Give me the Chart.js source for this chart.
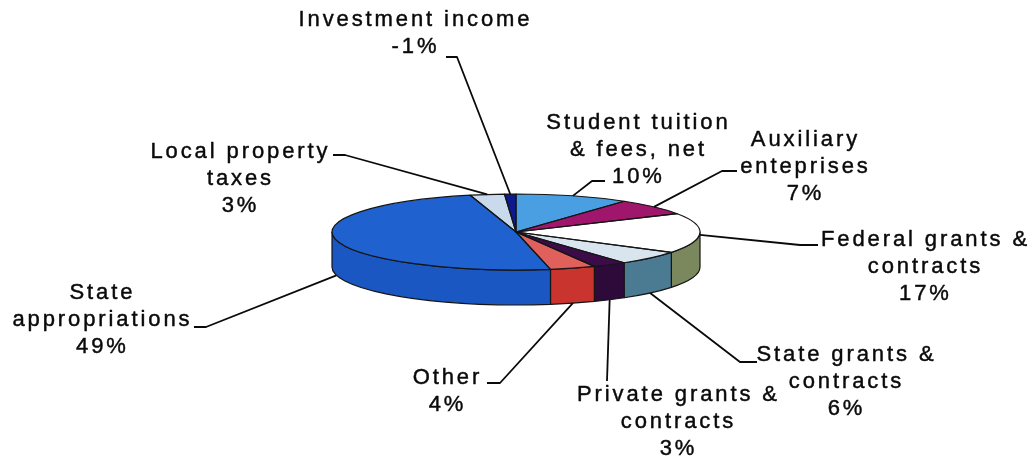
<!DOCTYPE html>
<html>
<head>
<meta charset="utf-8">
<title>Revenue sources</title>
<script src="https://cdn.jsdelivr.net/npm/chart.js@4.4.1/dist/chart.umd.min.js"></script>
<style>
  html, body { margin: 0; padding: 0; background: #ffffff; }
  #wrap { position: relative; width: 1034px; height: 457px; }
</style>
</head>
<body>
<div id="wrap"><canvas id="chart"></canvas></div>
<script>
// Revenue sources, clockwise from 12 o'clock
const categories = [
  'Student tuition & fees, net',
  'Auxiliary enteprises',
  'Federal grants & contracts',
  'State grants & contracts',
  'Private grants & contracts',
  'Other',
  'State appropriations',
  'Local property taxes',
  'Investment income'
];
const shares = [10, 7, 17, 6, 3, 4, 49, 3, -1];

// How each category name is broken over lines in its label
const labelLines = [
  ['Student tuition', '& fees, net'],
  ['Auxiliary', 'enteprises'],
  ['Federal grants &', 'contracts'],
  ['State grants &', 'contracts'],
  ['Private grants &', 'contracts'],
  ['Other'],
  ['State', 'appropriations'],
  ['Local property', 'taxes'],
  ['Investment income']
];

// Slice colours: top face and outer wall
const topColors  = ['#4a9fe3', '#a0166c', '#ffffff', '#d9e5ee', '#3c0c48', '#e0605c', '#1f62cf', '#c8daec', '#0c1a8e'];
const sideColors = ['#3b86c9', '#86105a', '#7b875c', '#4b7b92', '#2e0a3a', '#c9342f', '#1b57c2', '#a9c2dc', '#0a1470'];

// Label placement: text centre x, first line y, leader elbow and tail,
// and where on the wall (0 = top rim, 1 = bottom rim) the leader starts
const labelLayout = [
  { x: 637, y: 123, elbow: [592, 181], tail: [605, 181], rim: 0 },
  { x: 804, y: 140, elbow: [722, 171], tail: [737, 171], rim: 0 },
  { x: 924, y: 240, elbow: [800, 245], tail: [818, 245], rim: 0.05 },
  { x: 845, y: 355, elbow: [740, 362], tail: [757, 362], rim: 1 },
  { x: 677, y: 395, elbow: [607, 381], tail: null, rim: 1 },
  { x: 446, y: 378, elbow: [500, 383], tail: [487, 383], rim: 1 },
  { x: 101, y: 293, elbow: [206, 327], tail: [194, 327], rim: 1 },
  { x: 239, y: 152, elbow: [345, 155], tail: [333, 155], rim: 0 },
  { x: 414, y: 20,  elbow: [457, 57],  tail: [446, 57],  rim: 0 }
];

const TILT = 38 / 184;   // vertical squash of the pie disc
const DEPTH = 35;        // thickness of the disc in px
const FONT = '22px "Liberation Sans", Arial, sans-serif';
const LETTER_SPACING = 2.9;
const LINE_H = 27;

function drawSpacedText(ctx, text, cx, cy) {
  const chars = Array.from(text);
  const widths = chars.map(ch => ctx.measureText(ch).width);
  const total = widths.reduce((a, b) => a + b, 0) + LETTER_SPACING * (widths.length - 1);
  let x = cx - total / 2;
  chars.forEach((ch, i) => {
    ctx.fillText(ch, x, cy);
    ctx.strokeText(ch, x, cy);
    x += widths[i] + LETTER_SPACING;
  });
}

const pie3d = {
  id: 'pie3d',
  beforeDatasetsDraw(chart) {
    const ctx = chart.ctx;
    const arcs = chart.getDatasetMeta(0).data;
    // outer walls of the front half of the disc
    ctx.save();
    ctx.lineWidth = 1.2;
    ctx.strokeStyle = '#151515';
    ctx.lineJoin = 'round';
    arcs.forEach((arc, i) => {
      const s = Math.max(arc.startAngle, 0);
      const e = Math.min(arc.endAngle, Math.PI);
      if (e <= s) return;
      const r = arc.outerRadius;
      ctx.beginPath();
      ctx.ellipse(arc.x, arc.y, r, r * TILT, 0, s, e);
      ctx.ellipse(arc.x, arc.y + DEPTH, r, r * TILT, 0, e, s, true);
      ctx.closePath();
      ctx.fillStyle = sideColors[i];
      ctx.fill();
      ctx.stroke();
    });
    ctx.restore();
    // squash the library's own slices into the tilted top face
    const cy = arcs[0].y;
    ctx.save();
    ctx.translate(0, cy);
    ctx.scale(1, TILT);
    ctx.translate(0, -cy);
  },
  afterDatasetsDraw(chart) {
    const ctx = chart.ctx;
    ctx.restore();
    const arcs = chart.getDatasetMeta(0).data;

    // slice outlines on the top face
    ctx.save();
    ctx.lineWidth = 1.2;
    ctx.strokeStyle = '#151515';
    ctx.lineJoin = 'round';
    arcs.forEach(arc => {
      const r = arc.outerRadius;
      ctx.beginPath();
      ctx.moveTo(arc.x, arc.y);
      ctx.ellipse(arc.x, arc.y, r, r * TILT, 0, arc.startAngle, arc.endAngle);
      ctx.closePath();
      ctx.stroke();
    });
    ctx.restore();

    // leader lines and labels
    ctx.save();
    ctx.strokeStyle = '#0a0a0a';
    ctx.lineWidth = 1.8;
    ctx.lineJoin = 'round';
    arcs.forEach((arc, i) => {
      const L = labelLayout[i];
      const mid = (arc.startAngle + arc.endAngle) / 2;
      const r = arc.outerRadius;
      const ax = arc.x + r * Math.cos(mid);
      const ay = arc.y + r * TILT * Math.sin(mid) + DEPTH * L.rim;
      ctx.beginPath();
      ctx.moveTo(ax, ay);
      ctx.lineTo(L.elbow[0], L.elbow[1]);
      if (L.tail) ctx.lineTo(L.tail[0], L.tail[1]);
      ctx.stroke();
    });
    ctx.fillStyle = '#0a0a0a';
    ctx.strokeStyle = '#0a0a0a';
    ctx.lineWidth = 0.45;
    ctx.font = FONT;
    ctx.textAlign = 'left';
    ctx.textBaseline = 'middle';
    categories.forEach((name, i) => {
      const L = labelLayout[i];
      const lines = labelLines[i].concat([shares[i] + '%']);
      lines.forEach((t, k) => drawSpacedText(ctx, t, L.x, L.y + k * LINE_H));
    });
    ctx.restore();
  }
};

new Chart(document.getElementById('chart'), {
  type: 'pie',
  data: {
    labels: categories,
    datasets: [{
      data: shares,
      backgroundColor: topColors,
      borderWidth: 0,
      radius: 184,
      clip: false
    }]
  },
  options: {
    responsive: true,
    maintainAspectRatio: false,
    animation: false,
    events: [],
    rotation: 0,
    layout: { padding: { left: 0, right: 2, top: 7, bottom: 0 } },
    plugins: {
      legend: { display: false },
      tooltip: { enabled: false }
    }
  },
  plugins: [pie3d]
});
</script>
</body>
</html>
